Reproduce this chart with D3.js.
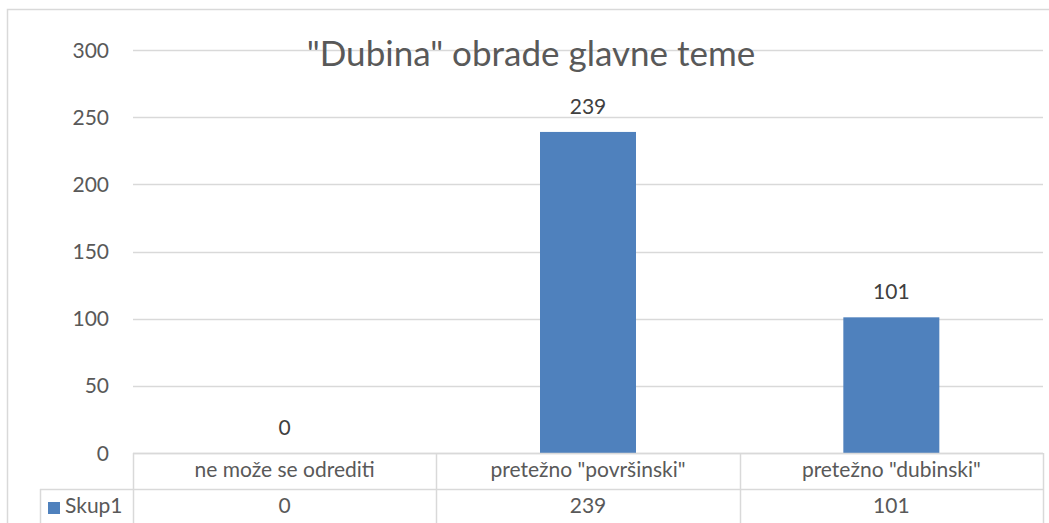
<!DOCTYPE html>
<html>
<head>
<meta charset="utf-8">
<script src="https://d3js.org/d3.v7.min.js"></script>
<style>
  body { margin: 0; background: #fff; }
  text { font-family: Lato, "Open Sans", sans-serif; fill: #595959; }
</style>
</head>
<body>
<script>

var w = 1049, h = 523;

var chartTitle = '"Dubina" obrade glavne teme';
var seriesName = "Skup1";
var categories = ["ne može se odrediti", 'pretežno "površinski"', 'pretežno "dubinski"'];
var values = [0, 239, 101];
var yTicks = [0, 50, 100, 150, 200, 250, 300];

// plot area
var pLeft = 133, pRight = 1043, pTop = 50, pBottom = 453;
var fs = "21px";

var svg = d3.select("body").append("svg").attr("width", w).attr("height", h);

// chart outline
svg.append("rect").attr("x", 7.5).attr("y", 9.5).attr("width", 1060).attr("height", 600)
  .attr("fill", "none").attr("stroke", "#d9d9d9").attr("stroke-width", 1.5);

var x = d3.scaleBand().domain(categories).range([pLeft, pRight]);
var y = d3.scaleLinear().domain([0, 300]).range([pBottom, pTop]);

// gridlines
svg.selectAll(".grid").data(yTicks).enter().append("line")
  .attr("x1", pLeft).attr("x2", pRight)
  .attr("y1", function(d){ return Math.round(y(d)) + 0.5; })
  .attr("y2", function(d){ return Math.round(y(d)) + 0.5; })
  .attr("stroke", "#d9d9d9").attr("stroke-width", 1.5);

// y tick labels
svg.selectAll(".ylab").data(yTicks).enter().append("text")
  .attr("x", 109).attr("y", function(d){ return y(d) + 7.5; })
  .attr("text-anchor", "end").attr("font-size", fs)
  .text(function(d){ return d; });

// title
svg.append("text").attr("x", 531).attr("y", 66).attr("text-anchor", "middle")
  .attr("font-size", "35px").text(chartTitle);

var bw = 96;
svg.selectAll(".bar").data(values).enter().append("rect")
  .attr("x", function(d, i){ return x(categories[i]) + x.bandwidth()/2 - bw/2; })
  .attr("y", function(d){ return y(d); })
  .attr("width", bw)
  .attr("height", function(d){ return pBottom - y(d); })
  .attr("fill", "#4f81bd");

// data labels
svg.selectAll(".dlab").data(values).enter().append("text")
  .attr("x", function(d, i){ return x(categories[i]) + x.bandwidth()/2; })
  .attr("y", function(d){ return y(d) - 18; })
  .attr("text-anchor", "middle").attr("font-size", fs)
  .attr("fill", "#404040").style("fill", "#404040")
  .text(function(d){ return d; });

// data table
var tableTop = pBottom, row2 = 489;
var grid = "#d9d9d9";
svg.append("line").attr("x1", pLeft).attr("x2", pRight).attr("y1", tableTop + 0.5).attr("y2", tableTop + 0.5)
  .attr("stroke", grid).attr("stroke-width", 1.5);
svg.append("line").attr("x1", 40).attr("x2", pRight).attr("y1", row2 + 0.5).attr("y2", row2 + 0.5)
  .attr("stroke", grid).attr("stroke-width", 1.5);
svg.append("line").attr("x1", 40.5).attr("x2", 40.5).attr("y1", row2).attr("y2", h + 10)
  .attr("stroke", grid).attr("stroke-width", 1.5);

var edges = categories.map(function(c){ return x(c); }).concat([pRight]);
svg.selectAll(".vline").data(edges).enter().append("line")
  .attr("x1", function(d){ return Math.round(d) + 0.5; })
  .attr("x2", function(d){ return Math.round(d) + 0.5; })
  .attr("y1", tableTop).attr("y2", h + 10)
  .attr("stroke", grid).attr("stroke-width", 1.5);

svg.selectAll(".cat").data(categories).enter().append("text")
  .attr("x", function(d){ return x(d) + x.bandwidth()/2; })
  .attr("y", 477)
  .attr("text-anchor", "middle").attr("font-size", fs)
  .text(function(d){ return d; });

svg.selectAll(".val").data(values).enter().append("text")
  .attr("x", function(d, i){ return x(categories[i]) + x.bandwidth()/2; })
  .attr("y", 513)
  .attr("text-anchor", "middle").attr("font-size", fs)
  .text(function(d){ return d; });

// legend key
svg.append("rect").attr("x", 48).attr("y", 502).attr("width", 12).attr("height", 12).attr("fill", "#4f81bd");
svg.append("text").attr("x", 65).attr("y", 513).attr("font-size", fs).text(seriesName);

</script>
</body>
</html>
